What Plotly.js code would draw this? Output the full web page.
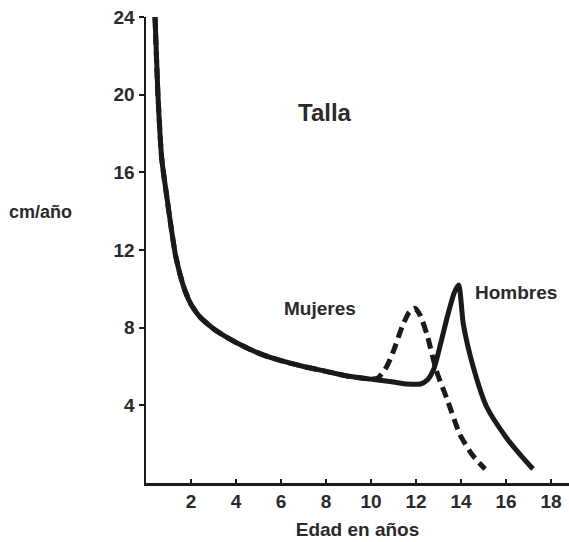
<!DOCTYPE html>
<html>
<head>
<meta charset="utf-8">
<script src="https://cdn.plot.ly/plotly-3.0.1.min.js"></script>
<style>html,body{margin:0;padding:0;background:#fff;}#chart{width:569px;height:542px;}</style>
</head>
<body>
<div id="chart"></div>
<script>
// Growth velocity (cm/año) vs age (años)
const edadHombres = [0.4, 0.53, 0.7, 0.93, 1.1, 1.3, 1.5, 1.75, 2.0, 2.4, 3.0, 3.6, 4.4, 5.2, 6, 7, 8, 9, 10, 10.3, 11, 11.6, 12.2, 12.5, 12.8, 13.1, 13.4, 13.7, 13.9, 14.1, 14.55, 15.15, 16.0, 16.6, 17.2];
const tallaHombres = [24, 20, 16.7, 14.7, 13.3, 11.8, 10.8, 9.85, 9.2, 8.55, 7.95, 7.5, 7.0, 6.6, 6.3, 6.0, 5.75, 5.5, 5.35, 5.3, 5.2, 5.1, 5.1, 5.3, 5.9, 7.2, 8.6, 9.8, 10.2, 8.2, 5.95, 3.9, 2.36, 1.5, 0.72];
const edadMujeres = [0.4, 0.53, 0.7, 0.93, 1.1, 1.3, 1.5, 1.75, 2.0, 2.4, 3.0, 3.6, 4.4, 5.2, 6, 7, 8, 9, 10, 10.3, 10.7, 11.0, 11.4, 11.7, 11.95, 12.2, 12.5, 12.9, 13.4, 13.95, 14.5, 15.07];
const tallaMujeres = [24, 20, 16.7, 14.7, 13.3, 11.8, 10.8, 9.85, 9.2, 8.55, 7.95, 7.5, 7.0, 6.6, 6.3, 6.0, 5.75, 5.5, 5.35, 5.4, 6.0, 6.8, 8.1, 8.8, 9.0, 8.6, 7.6, 5.8, 4.26, 2.5, 1.45, 0.72];
const xTicks = [2, 4, 6, 8, 10, 12, 14, 16, 18];
const yTicks = [4, 8, 12, 16, 20, 24];

const FONT = "Liberation Sans, Arial, sans-serif";
const INK = "#1a1a1a";
const TXT = "#2a2a2a";

const traces = [
  {x: edadMujeres, y: tallaMujeres, mode: "lines", line: {color: INK, width: 5, dash: "11px,6px", shape: "spline", smoothing: 0.6}, hoverinfo: "skip", name: "Mujeres"},
  {x: edadHombres, y: tallaHombres, mode: "lines", line: {color: INK, width: 5, shape: "spline", smoothing: 0.6}, hoverinfo: "skip", name: "Hombres"}
];

const ML = 146, MR = 0, MT = 17, MB = 59;
const layout = {
  width: 569, height: 542,
  margin: {l: ML, r: MR, t: MT, b: MB},
  paper_bgcolor: "#fff", plot_bgcolor: "#fff",
  showlegend: false,
  font: {family: FONT, color: INK},
  xaxis: {
    range: [0, 18.8], tickvals: xTicks, ticktext: xTicks.map(String),
    showgrid: false, zeroline: false, showline: true, linecolor: INK, linewidth: 2.5,
    ticks: "inside", ticklen: 4, tickwidth: 2, tickcolor: INK,
    tickfont: {family: FONT, size: 19, color: TXT, weight: "bold"},
    title: {text: "Edad en años", font: {family: FONT, size: 19, color: TXT, weight: "bold"}, standoff: 12}
  },
  yaxis: {
    range: [0, 24], tickvals: yTicks, ticktext: yTicks.map(String),
    showgrid: false, zeroline: false, showline: true, linecolor: INK, linewidth: 2.5,
    ticks: "outside", ticklen: 5, tickwidth: 2, tickcolor: INK,
    tickfont: {family: FONT, size: 19, color: TXT, weight: "bold"}
  },
  annotations: [
    {text: "Talla", x: 325, y: 112, showarrow: false, font: {family: FONT, size: 24, color: TXT, weight: "bold"}},
    {text: "cm/año", x: 40, y: 212, showarrow: false, font: {family: FONT, size: 18, color: TXT, weight: "bold"}},
    {text: "Mujeres", x: 320, y: 308, showarrow: false, font: {family: FONT, size: 19, color: TXT, weight: "bold"}},
    {text: "Hombres", x: 516, y: 292, showarrow: false, font: {family: FONT, size: 19, color: TXT, weight: "bold"}}
  ]
};
// convert pixel positions of annotations into paper coords
const pw = 569 - ML - MR, ph = 542 - MT - MB;
layout.annotations.forEach(a => {
  a.xref = "paper"; a.yref = "paper";
  a.x = (a.x - ML) / pw; a.y = (542 - MB - a.y) / ph;
  a.xanchor = "center"; a.yanchor = "middle";
});

Plotly.newPlot("chart", traces, layout, {displayModeBar: false, staticPlot: true});
</script>
</body>
</html>
